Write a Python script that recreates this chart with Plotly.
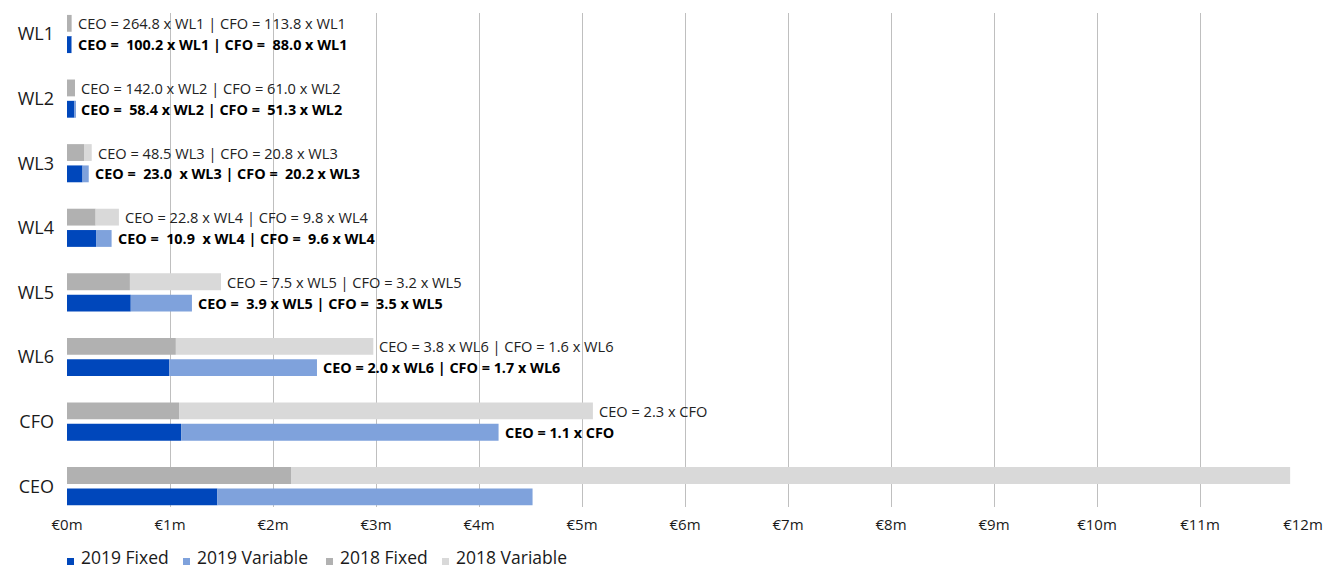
import plotly.graph_objects as go

categories = ["CEO", "CFO", "WL6", "WL5", "WL4", "WL3", "WL2", "WL1"]

# values in € millions
fixed_2019 = [1.46, 1.108, 0.992, 0.619, 0.282, 0.151, 0.07, 0.045]
variable_2019 = [3.06, 3.082, 1.435, 0.594, 0.151, 0.06, 0.011, 0.002]
fixed_2018 = [2.175, 1.088, 1.057, 0.611, 0.278, 0.165, 0.078, 0.045]
variable_2018 = [9.70, 4.018, 1.917, 0.884, 0.226, 0.075, 0.0, 0.0]

labels_2019 = [
    "",
    "CEO = 1.1 x CFO",
    "CEO = 2.0 x WL6 | CFO = 1.7 x WL6",
    "CEO =  3.9 x WL5 | CFO =  3.5 x WL5",
    "CEO =  10.9  x WL4 | CFO =  9.6 x WL4",
    "CEO =  23.0  x WL3 | CFO =  20.2 x WL3",
    "CEO =  58.4 x WL2 | CFO =  51.3 x WL2",
    "CEO =  100.2 x WL1 | CFO =  88.0 x WL1",
]
labels_2018 = [
    "",
    "CEO = 2.3 x CFO",
    "CEO = 3.8 x WL6 | CFO = 1.6 x WL6",
    "CEO = 7.5 x WL5 | CFO = 3.2 x WL5",
    "CEO = 22.8 x WL4 | CFO = 9.8 x WL4",
    "CEO = 48.5 WL3 | CFO = 20.8 x WL3",
    "CEO = 142.0 x WL2 | CFO = 61.0 x WL2",
    "CEO = 264.8 x WL1 | CFO = 113.8 x WL1",
]

series_names = ["2019 Fixed", "2019 Variable", "2018 Fixed", "2018 Variable"]
colors = ["#0047BB", "#7FA2DC", "#B1B1B1", "#D9D9D9"]

FONT = "Open Sans"
W, H = 1325, 569
ML, MR, MT, MB = 67, 22, 13, 62

fig = go.Figure()

fig.add_trace(go.Bar(y=categories, x=fixed_2019, orientation="h", name=series_names[0],
                     marker=dict(color=colors[0], line=dict(width=0)), offsetgroup="2019",
                     showlegend=False, hoverinfo="x+name"))
fig.add_trace(go.Bar(y=categories, x=variable_2019, base=fixed_2019, orientation="h", name=series_names[1],
                     marker=dict(color=colors[1], line=dict(width=0)), offsetgroup="2019",
                     showlegend=False, hoverinfo="x+name"))
fig.add_trace(go.Bar(y=categories, x=fixed_2018, orientation="h", name=series_names[2],
                     marker=dict(color=colors[2], line=dict(width=0)), offsetgroup="2018",
                     showlegend=False, hoverinfo="x+name"))
fig.add_trace(go.Bar(y=categories, x=variable_2018, base=fixed_2018, orientation="h", name=series_names[3],
                     marker=dict(color=colors[3], line=dict(width=0)), offsetgroup="2018",
                     showlegend=False, hoverinfo="x+name"))

def nb(s):
    return s.replace("  ", " \u00a0")

annotations = []
shift = 10.65
for i, cat in enumerate(categories):
    t19 = fixed_2019[i] + variable_2019[i]
    t18 = fixed_2018[i] + variable_2018[i]
    if labels_2018[i]:
        annotations.append(dict(x=t18, y=cat, xref="x", yref="y", text=nb(labels_2018[i]),
                                showarrow=False, xanchor="left", yanchor="middle",
                                xshift=4, yshift=shift,
                                font=dict(family=FONT, size=14.6, color="#222222")))
    if labels_2019[i]:
        annotations.append(dict(x=t19, y=cat, xref="x", yref="y", text="<b>" + nb(labels_2019[i]) + "</b>",
                                showarrow=False, xanchor="left", yanchor="middle",
                                xshift=4, yshift=-shift,
                                font=dict(family=FONT, size=14.4, color="#000000")))

# custom legend (small square swatches + text) below the axis
plot_w = W - ML - MR
legend_px = [67, 183, 326, 442]
shapes = []
for name, col, px in zip(series_names, colors, legend_px):
    xa = (px - ML) / plot_w
    shapes.append(dict(type="rect", xref="paper", yref="paper", xsizemode="pixel", ysizemode="pixel",
                       xanchor=xa, yanchor=0, x0=0, x1=7, y0=-58, y1=-51,
                       fillcolor=col, line=dict(width=0)))
    annotations.append(dict(x=xa, y=0, xref="paper", yref="paper", text=name, showarrow=False,
                            xanchor="left", yanchor="middle", xshift=12, yshift=-50,
                            font=dict(family=FONT, size=17.5, color="#1a1a1a")))

fig.update_layout(
    width=W, height=H,
    margin=dict(l=ML, r=MR, t=MT, b=MB, autoexpand=False),
    paper_bgcolor="white", plot_bgcolor="white",
    barmode="group", bargap=0.34, bargroupgap=0.21,
    showlegend=False,
    annotations=annotations,
    shapes=shapes,
    font=dict(family=FONT, color="#1a1a1a"),
    xaxis=dict(range=[0, 12], dtick=1, tick0=0, tickprefix="€", ticksuffix="m",
               showgrid=True, gridcolor="#BFBFBF", gridwidth=1, zeroline=False, automargin=False,
               showline=False, ticks="", ticklabelstandoff=7,
               tickfont=dict(family=FONT, size=15, color="#1a1a1a")),
    yaxis=dict(type="category", categoryorder="array", categoryarray=categories,
               range=[-0.322, 7.325], showgrid=False, zeroline=False, showline=False,
               ticks="", ticklabelstandoff=12, automargin=False,
               tickfont=dict(family=FONT, size=18, color="#1a1a1a")),
)

fig.write_html("out.html", config={"displayModeBar": False},
               post_script="document.body.style.margin='0px';")
